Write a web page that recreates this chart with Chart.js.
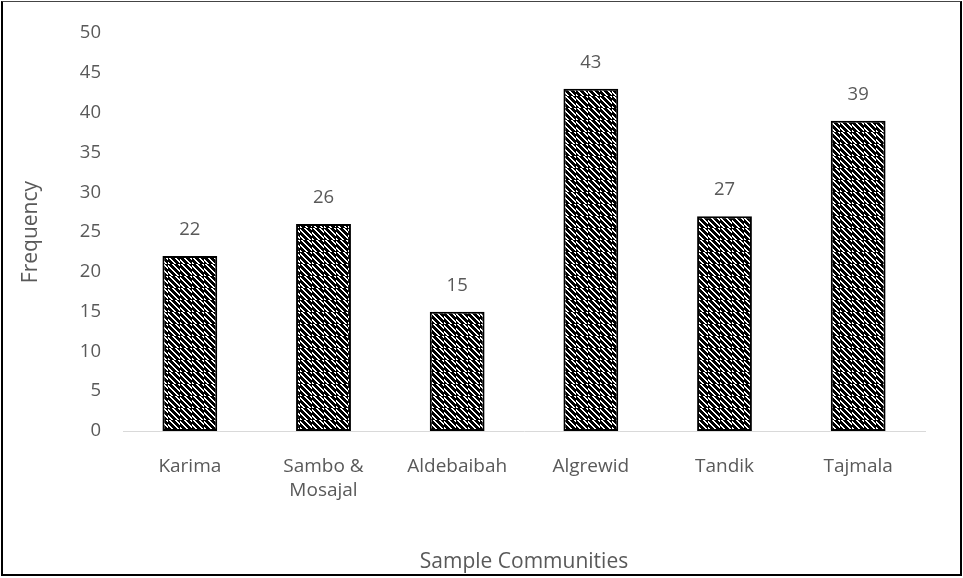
<!DOCTYPE html>
<html>
<head>
<meta charset="utf-8">
<script src="https://cdn.jsdelivr.net/npm/chart.js@4/dist/chart.umd.min.js"></script>
<style>
  html, body { margin: 0; padding: 0; background: #fff; }
  #wrap {
    position: relative;
    width: 963px; height: 578px;
    box-sizing: border-box;
  }
  #frame {
    position: absolute; left: 1px; top: 1px; width: 957px; height: 572px;
    border: 2px solid #000; border-top: 1px solid #444;
    pointer-events: none;
  }
  canvas { position: absolute; left: 0; top: 0; }
</style>
</head>
<body>
<div id="wrap">
  <canvas id="chart" width="963" height="578"></canvas>
  <div id="frame"></div>
</div>
<script>
const communities = ["Karima", ["Sambo &", "Mosajal"], "Aldebaibah", "Algrewid", "Tandik", "Tajmala"];
const frequency = [22, 26, 15, 43, 27, 39];
const yTicks = [0, 5, 10, 15, 20, 25, 30, 35, 40, 45, 50];

const FONT = "'Open Sans', Lato, sans-serif";
const GREY = "#595959";

// black/white diagonal hatch, every other block shifted by half a stripe
function makeHatch() {
  const cell = 12;
  const size = cell * 2;
  const c = document.createElement("canvas");
  c.width = size; c.height = size;
  const g = c.getContext("2d");
  g.fillStyle = "#fff";
  g.fillRect(0, 0, size, size);
  g.fillStyle = "#000";
  for (let y = 0; y < size; y++) {
    const row = Math.floor(y / cell);
    for (let x = 0; x < size; x++) {
      const col = Math.floor(x / cell);
      const shift = (row + col) % 2 ? 3 : 0;
      const d = ((x - y + shift) % 6 + 24) % 6;
      if (d < 4) g.fillRect(x, y, 1, 1);
    }
  }
  return g.createPattern(c, "repeat");
}

const valueLabels = {
  id: "valueLabels",
  afterDatasetsDraw(chart) {
    const ctx = chart.ctx;
    const meta = chart.getDatasetMeta(0);
    ctx.save();
    ctx.font = "18.5px " + FONT;
    ctx.fillStyle = GREY;
    ctx.textAlign = "center";
    ctx.textBaseline = "middle";
    meta.data.forEach((bar, i) => {
      ctx.fillText(String(frequency[i]), bar.x, bar.y - 26);
    });
    ctx.restore();
  }
};

const ctx = document.getElementById("chart").getContext("2d");
new Chart(ctx, {
  type: "bar",
  data: {
    labels: communities,
    datasets: [{
      data: frequency,
      backgroundColor: makeHatch(),
      borderColor: "#000",
      borderWidth: 2,
      borderSkipped: false,
      categoryPercentage: 1,
      barPercentage: 0.41,
    }]
  },
  options: {
    responsive: false,
    animation: false,
    layout: { padding: { left: 18, right: 38, top: 31, bottom: 3 } },
    plugins: { legend: { display: false }, tooltip: { enabled: false } },
    scales: {
      x: {
        grid: { display: false, drawTicks: false },
        border: { display: true, color: "#d9d9d9", width: 1 },
        ticks: { color: GREY, font: { family: FONT, size: 19, lineHeight: 1.3 }, padding: 23, maxRotation: 0 },
        title: { display: true, text: "Sample Communities", color: GREY, font: { family: FONT, size: 21 }, padding: 0 },
        afterFit(scale) { scale.height = 144; }
      },
      y: {
        min: 0, max: 50,
        grid: { display: false, drawTicks: false },
        border: { display: false },
        afterBuildTicks(scale) { scale.ticks = yTicks.map(v => ({ value: v })); },
        ticks: { color: GREY, font: { family: FONT, size: 18.5 }, padding: 22 },
        title: { display: true, text: "Frequency", color: GREY, font: { family: FONT, size: 21 }, padding: 0 },
        afterFit(scale) { scale.width = 105; }
      }
    }
  },
  plugins: [valueLabels]
});
</script>
</body>
</html>
